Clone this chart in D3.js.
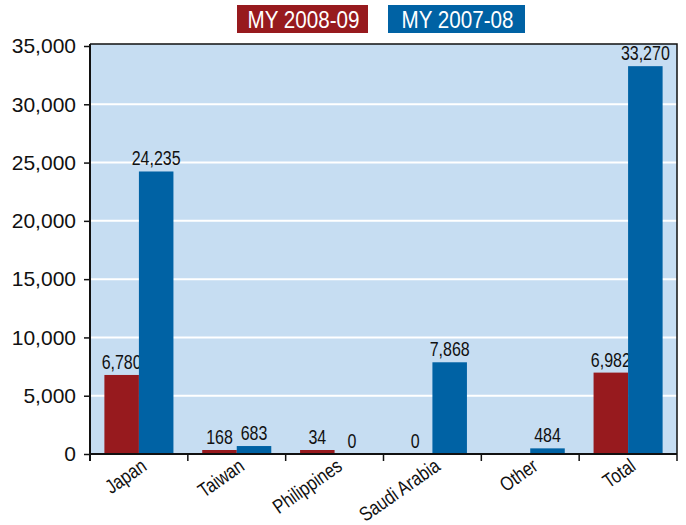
<!DOCTYPE html>
<html>
<head>
<meta charset="utf-8">
<script src="https://cdn.jsdelivr.net/npm/d3@7"></script>
<style>
    body { margin: 0; background: #fff; }
    text { font-family: "Liberation Sans", Arial, Helvetica, sans-serif; }
</style>
</head>
<body>
<div id="chart"></div>
<script>
const categories = ["Japan", "Taiwan", "Philippines", "Saudi Arabia", "Other", "Total"];
const my0809 = [6780, 168, 34, 0, null, 6982];
const my0708 = [24235, 683, 0, 7868, 484, 33270];
const seriesNames = ["MY 2008-09", "MY 2007-08"];
const yTicks = [0, 5000, 10000, 15000, 20000, 25000, 30000, 35000];

const colors = ["#971a1e", "#0062a4"];

// no narrow font installed, so squeeze regular sans horizontally
const squeeze = 0.82;

function drawChart() {
    const width = 686, height = 525;
    const plot = { left: 90, right: 677, top: 44, bottom: 454 };

    const svg = d3.select("#chart")
        .append("svg")
        .attr("width", width)
        .attr("height", height);

    const xScale = d3.scaleBand()
        .domain(categories)
        .range([plot.left, plot.right])
        .paddingInner(0)
        .paddingOuter(0);
    const inner = d3.scaleBand()
        .domain(seriesNames)
        .range([0, xScale.bandwidth()])
        .paddingOuter(0.417)
        .paddingInner(0);
    const yScale = d3.scaleLinear()
        .domain([0, 35000])
        .range([plot.bottom, 46]);

    // plot background
    svg.append("rect")
        .attr("x", plot.left)
        .attr("y", plot.top)
        .attr("width", plot.right - plot.left)
        .attr("height", plot.bottom - plot.top)
        .attr("fill", "#c6ddf2");

    // white gridlines
    svg.append("g")
        .selectAll("line")
        .data(yTicks.filter((d) => d > 0 && d < 35000))
        .enter()
        .append("line")
        .attr("x1", plot.left)
        .attr("x2", plot.right)
        .attr("y1", (d) => yScale(d))
        .attr("y2", (d) => yScale(d))
        .attr("stroke", "#fff")
        .attr("stroke-width", 2);

    // bars
    const rows = categories.map((c, i) => ({ c, vals: [my0809[i], my0708[i]] }));
    const minH = 4;
    const barTop = (v) => plot.bottom - Math.max(yScale(0) - yScale(v), minH);
    const groups = svg.append("g")
        .selectAll("g")
        .data(rows)
        .enter()
        .append("g")
        .attr("transform", (d) => `translate(${xScale(d.c)},0)`);

    const cells = groups.selectAll("g")
        .data((d) => d.vals.map((v, k) => ({ v, k, name: seriesNames[k] })))
        .enter()
        .append("g");

    cells.filter((d) => d.v)
        .append("rect")
        .attr("x", (d) => inner(d.name))
        .attr("width", inner.bandwidth())
        .attr("y", (d) => barTop(d.v))
        .attr("height", (d) => plot.bottom - barTop(d.v))
        .attr("fill", (d) => colors[d.k]);

    cells.filter((d) => d.v !== null)
        .append("text")
        .attr("transform", (d) => {
            const x = inner(d.name) + inner.bandwidth() / 2;
            const y = (d.v ? barTop(d.v) : plot.bottom) - 6;
            return `translate(${x},${y}) scale(${squeeze},1)`;
        })
        .attr("text-anchor", "middle")
        .attr("font-size", "19.5px")
        .attr("fill", "#111")
        .text((d) => d3.format(",")(d.v));

    // frame top / right
    svg.append("path")
        .attr("d", `M${plot.left},${plot.top}H${plot.right}V${plot.bottom}`)
        .attr("fill", "none")
        .attr("stroke", "#111")
        .attr("stroke-width", 1.5);

    // y axis
    const yAxisCall = d3.axisLeft(yScale)
        .tickValues(yTicks)
        .tickSize(6)
        .tickPadding(8)
        .tickFormat(d3.format(","));
    const yAxis = svg.append("g")
        .attr("class", "y axis")
        .attr("transform", `translate(${plot.left},0)`)
        .call(yAxisCall);
    yAxis.select(".domain").remove();
    yAxis.selectAll(".tick line").attr("stroke", "#111").attr("stroke-width", 1.5);
    yAxis.selectAll(".tick text")
        .attr("font-size", "21px")
        .attr("fill", "#111");
    svg.append("line")
        .attr("x1", plot.left).attr("x2", plot.left)
        .attr("y1", plot.top).attr("y2", plot.bottom + 7)
        .attr("stroke", "#111").attr("stroke-width", 2);

    // x axis
    svg.append("line")
        .attr("x1", plot.left).attr("x2", plot.right)
        .attr("y1", plot.bottom).attr("y2", plot.bottom)
        .attr("stroke", "#111").attr("stroke-width", 2);
    const bounds = categories.map((c) => xScale(c)).concat([plot.right]);
    svg.append("g")
        .selectAll("line")
        .data(bounds)
        .enter()
        .append("line")
        .attr("x1", (d) => d).attr("x2", (d) => d)
        .attr("y1", plot.bottom).attr("y2", plot.bottom + 7)
        .attr("stroke", "#111").attr("stroke-width", 1.5);

    svg.append("g")
        .selectAll("text")
        .data(categories)
        .enter()
        .append("text")
        .attr("transform", (d) => `translate(${xScale(d) + xScale.bandwidth() / 2 + 9},469) rotate(-35) scale(${squeeze},1)`)
        .attr("text-anchor", "end")
        .attr("font-size", "20px")
        .attr("fill", "#111")
        .text((d) => d);

    // legend
    const legendPos = [{ x: 237, w: 131 }, { x: 388, w: 137 }];
    const legend = svg.append("g")
        .selectAll("g")
        .data(seriesNames)
        .enter()
        .append("g");
    legend.append("rect")
        .attr("x", (d, i) => legendPos[i].x)
        .attr("y", 5)
        .attr("width", (d, i) => legendPos[i].w)
        .attr("height", 28)
        .attr("fill", (d, i) => colors[i]);
    legend.append("text")
        .attr("transform", (d, i) => `translate(${legendPos[i].x + legendPos[i].w / 2 + 1},27.5) scale(0.86,1)`)
        .attr("text-anchor", "middle")
        .attr("font-size", "24px")
        .attr("fill", "#fff")
        .text((d) => d);
}

drawChart();
</script>
</body>
</html>
